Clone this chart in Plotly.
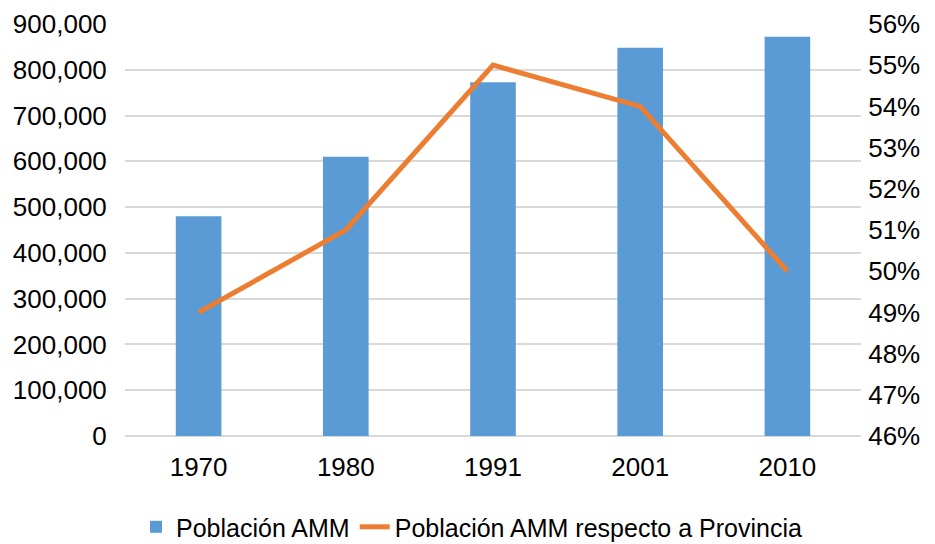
import plotly.graph_objects as go

years = ["1970", "1980", "1991", "2001", "2010"]
poblacion = [480000, 610000, 773000, 848000, 872000]
porcentaje = [0.49, 0.51, 0.55, 0.54, 0.50]

left_ticks = [0, 100000, 200000, 300000, 400000, 500000, 600000, 700000, 800000, 900000]
left_labels = ["0", "100,000", "200,000", "300,000", "400,000", "500,000", "600,000", "700,000", "800,000", "900,000"]
right_ticks = [0.46, 0.47, 0.48, 0.49, 0.50, 0.51, 0.52, 0.53, 0.54, 0.55, 0.56]
right_labels = ["46%", "47%", "48%", "49%", "50%", "51%", "52%", "53%", "54%", "55%", "56%"]

fig = go.Figure()
fig.add_trace(go.Bar(x=years, y=poblacion, name="Población AMM",
                     marker=dict(color="#5B9BD5", line=dict(width=0))))
fig.add_trace(go.Scatter(x=years, y=porcentaje, name="Población AMM respecto a Provincia",
                         mode="lines", line=dict(color="#ED7D31", width=5), yaxis="y2"))

fs = 26
font = dict(family="Liberation Sans, Arial, sans-serif", size=fs, color="#000000")
fig.update_layout(
    width=927, height=536,
    margin=dict(l=117, r=74, t=16, b=108, autoexpand=False),
    paper_bgcolor="white", plot_bgcolor="white",
    font=font,
    bargap=0.69,
    showlegend=True,
    legend=dict(orientation="h", x=0.5, xanchor="center", xref="container",
                y=-0.221, yanchor="middle", yref="paper",
                font=dict(size=25), itemwidth=30, traceorder="normal",
                tracegroupgap=0),
    xaxis=dict(showgrid=False, showline=False, ticks="outside", ticklen=8,
               tickcolor="rgba(0,0,0,0)", tickfont=dict(size=fs)),
    yaxis=dict(range=[0, 900000], tickvals=left_ticks, ticktext=left_labels,
               showgrid=True, gridcolor="#D9D9D9", gridwidth=2,
               zeroline=True, zerolinecolor="#D9D9D9", zerolinewidth=2,
               showline=False, ticks="outside", ticklen=12, tickcolor="rgba(0,0,0,0)",
               tickfont=dict(size=fs)),
    yaxis2=dict(range=[0.46, 0.56], tickvals=right_ticks, ticktext=right_labels,
                overlaying="y", side="right", showgrid=False, zeroline=False,
                showline=False, ticks="outside", ticklen=1, tickcolor="rgba(0,0,0,0)",
                tickfont=dict(size=fs)),
)

fig.write_html("out.html")
